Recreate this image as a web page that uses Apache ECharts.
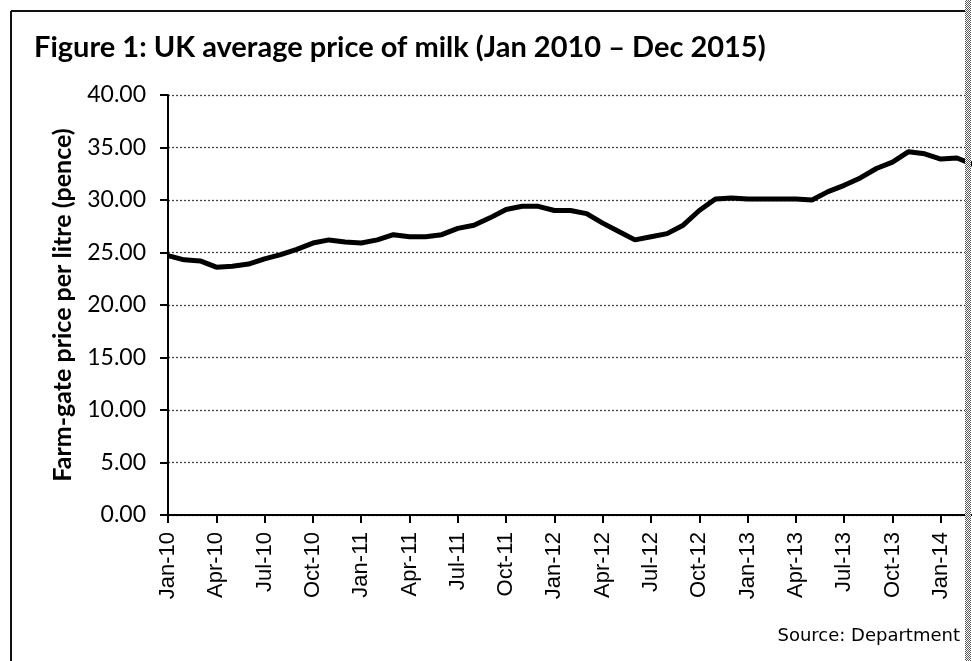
<!DOCTYPE html>
<html><head><meta charset="utf-8">
<script src="https://cdn.jsdelivr.net/npm/echarts@6/dist/echarts.min.js"></script>
<style>
html,body{margin:0;padding:0;width:972px;height:661px;overflow:hidden;background:#fff;}
#c{width:1000px;height:661px;position:absolute;left:0;top:0;}
#edge{position:absolute;left:965px;top:0;width:6px;height:661px;
background-image:repeating-conic-gradient(#555 0 25%, #fff 0 50%);background-size:2px 2px;}
</style></head>
<body><div id="c"></div><div id="edge"></div>
<script>
const months = ['Jan','Feb','Mar','Apr','May','Jun','Jul','Aug','Sep','Oct','Nov','Dec'];
const categories = [];
for (let y = 10; y <= 14; y++) for (let m = 0; m < 12; m++) {
  if (y === 14 && m > 2) break;
  categories.push(months[m] + '-' + y);
}
const prices = [
  24.7, 24.3, 24.2, 23.6, 23.7, 23.9, 24.4, 24.8, 25.3, 25.9, 26.2, 26.0,
  25.9, 26.2, 26.7, 26.5, 26.5, 26.7, 27.3, 27.6, 28.3, 29.1, 29.4, 29.4,
  29.0, 29.0, 28.7, 27.8, 27.0, 26.2, 26.5, 26.8, 27.6, 29.0, 30.1, 30.2,
  30.1, 30.1, 30.1, 30.1, 30.0, 30.8, 31.4, 32.1, 33.0, 33.6, 34.6, 34.4,
  33.9, 34.0, 33.4
];
const yTicks = [0, 5, 10, 15, 20, 25, 30, 35, 40];

const chart = echarts.init(document.getElementById('c'));
chart.setOption({
  animation: false,
  title: {
    text: 'Figure 1: UK average price of milk (Jan 2010 \u2013 Dec 2015)',
    left: 29, top: 28,
    textStyle: {fontFamily: 'Lato', fontWeight: 'bold', fontSize: 29, color: '#000'}
  },
  graphic: [
    {type: 'line', shape: {x1: 11, y1: 11, x2: 966, y2: 11}, style: {stroke: '#111', lineWidth: 2}},
    {type: 'line', shape: {x1: 11, y1: 11, x2: 11, y2: 661}, style: {stroke: '#111', lineWidth: 2}},
    {type: 'text', right: 40, top: 627,
     style: {text: 'Source: Department', fontFamily: 'DejaVu Sans', fontSize: 18, fill: '#000'}}
  ],
  grid: {left: 168, top: 95, right: 27, bottom: 146, containLabel: false},
  xAxis: {
    type: 'category', data: categories, boundaryGap: false,
    axisLine: {lineStyle: {color: '#000', width: 2}},
    axisTick: {show: true, interval: 2, length: 8, lineStyle: {color: '#000', width: 2}},
    axisLabel: {interval: 2, rotate: 90, margin: 17, fontFamily: 'Liberation Sans', fontSize: 22, color: '#000'},
    splitLine: {show: false}
  },
  yAxis: {
    type: 'value', min: 0, max: 40, interval: 5,
    name: 'Farm-gate price per litre (pence)', nameLocation: 'middle', nameGap: 93,
    nameTextStyle: {fontFamily: 'Lato', fontWeight: 'bold', fontSize: 25, color: '#000'},
    axisLine: {show: true, lineStyle: {color: '#000', width: 2}},
    axisTick: {show: true, length: 8, lineStyle: {color: '#000', width: 2}},
    axisLabel: {margin: 22, fontFamily: 'Lato', fontSize: 23, color: '#000',
      formatter: v => yTicks.includes(v) ? v.toFixed(2) : ''},
    splitLine: {show: true, lineStyle: {color: '#444', width: 1.3, type: [2, 2]}}
  },
  series: [{
    type: 'line', data: prices, symbol: 'none', smooth: false,
    lineStyle: {color: '#000', width: 5}, z: 5
  }]
});
</script></body></html>
